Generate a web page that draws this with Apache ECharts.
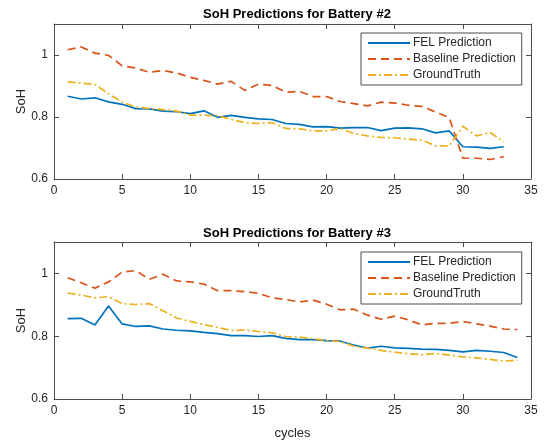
<!DOCTYPE html>
<html>
<head>
<meta charset="utf-8">
<script src="https://cdn.jsdelivr.net/npm/echarts@6/dist/echarts.min.js"></script>
<style>
  html, body { margin: 0; padding: 0; background: #fff; }
  #main { width: 546px; height: 443px; }
</style>
</head>
<body>
<div id="main"></div>
<script>
// battery #2 (cycles 1..33)
var cycles2 = [1,2,3,4,5,6,7,8,9,10,11,12,13,14,15,16,17,18,19,20,21,22,23,24,25,26,27,28,29,30,31,32,33];
var fel2 = [0.867,0.858,0.862,0.849,0.841,0.827,0.826,0.819,0.817,0.811,0.820,0.799,0.805,0.799,0.794,0.792,0.779,0.776,0.768,0.769,0.764,0.766,0.766,0.756,0.764,0.765,0.762,0.749,0.755,0.704,0.703,0.699,0.704];
var base2 = [1.017,1.026,1.006,0.999,0.965,0.958,0.944,0.950,0.942,0.928,0.918,0.906,0.915,0.886,0.906,0.902,0.880,0.883,0.866,0.866,0.850,0.843,0.836,0.848,0.845,0.838,0.834,0.816,0.798,0.667,0.667,0.663,0.672];
var truth2 = [0.913,0.909,0.905,0.875,0.848,0.832,0.827,0.824,0.819,0.806,0.806,0.804,0.792,0.782,0.779,0.782,0.763,0.762,0.755,0.755,0.763,0.747,0.739,0.734,0.733,0.729,0.725,0.707,0.707,0.770,0.739,0.750,0.720];

// battery #3 (cycles 1..34)
var cycles3 = [1,2,3,4,5,6,7,8,9,10,11,12,13,14,15,16,17,18,19,20,21,22,23,24,25,26,27,28,29,30,31,32,33,34];
var fel3 = [0.856,0.857,0.836,0.896,0.839,0.831,0.833,0.823,0.819,0.817,0.812,0.808,0.802,0.802,0.799,0.802,0.793,0.789,0.789,0.786,0.784,0.772,0.762,0.768,0.763,0.761,0.759,0.758,0.755,0.750,0.755,0.752,0.748,0.732];
var base3 = [0.986,0.970,0.953,0.973,1.004,1.009,0.981,0.997,0.976,0.973,0.966,0.945,0.945,0.942,0.937,0.922,0.917,0.909,0.915,0.902,0.884,0.886,0.867,0.854,0.864,0.852,0.836,0.841,0.841,0.847,0.839,0.832,0.823,0.821];
var truth3 = [0.937,0.931,0.922,0.926,0.904,0.901,0.904,0.881,0.858,0.847,0.837,0.828,0.818,0.820,0.815,0.811,0.799,0.797,0.792,0.786,0.783,0.768,0.762,0.755,0.749,0.744,0.741,0.745,0.740,0.734,0.731,0.726,0.721,0.723];

var xTicks = [0,5,10,15,20,25,30,35];
var yTicks = [0.6,0.8,1];
var names = ["FEL Prediction", "Baseline Prediction", "GroundTruth"];

var font = "Liberation Sans, Arial, sans-serif";
var axisColor = "#4d4d4d";
var txtColor = "#262626";

function pairs(xs, ys) {
  return ys.map(function (v, i) { return [xs[i], v]; });
}

function yLabel(v) {
  for (var i = 0; i < yTicks.length; i++) {
    if (Math.abs(yTicks[i] - v) < 1e-6) return String(yTicks[i]);
  }
  return "";
}

function xAxes(g, withName) {
  return [
    {
      type: "value", gridIndex: g, min: 0, max: 35, interval: 5,
      axisLine: { show: true, onZero: false, lineStyle: { color: axisColor } },
      axisTick: { inside: true, length: 5, lineStyle: { color: axisColor } },
      axisLabel: { color: txtColor, fontSize: 12, fontFamily: font, margin: 6 },
      splitLine: { show: false },
      name: withName ? "cycles" : "",
      nameLocation: "middle", nameGap: 28,
      nameTextStyle: { color: txtColor, fontSize: 13, fontFamily: font }
    },
    {
      type: "value", gridIndex: g, position: "top", min: 0, max: 35, interval: 5,
      axisLine: { show: true, onZero: false, lineStyle: { color: axisColor } },
      axisTick: { inside: true, length: 5, lineStyle: { color: axisColor } },
      axisLabel: { show: false },
      splitLine: { show: false }
    }
  ];
}

function yAxes(g) {
  return [
    {
      type: "value", gridIndex: g, min: 0.6, max: 1.1, interval: 0.2,
      axisLine: { show: true, onZero: false, lineStyle: { color: axisColor } },
      axisTick: { inside: true, length: 5, lineStyle: { color: axisColor } },
      axisLabel: { color: txtColor, fontSize: 12, fontFamily: font, margin: 6, formatter: yLabel },
      splitLine: { show: false },
      name: "SoH", nameLocation: "middle", nameGap: 26, nameRotate: 90, nameMoveOverlap: false,
      nameTextStyle: { color: txtColor, fontSize: 13, fontFamily: font }
    },
    {
      type: "value", gridIndex: g, position: "right", min: 0.6, max: 1.1, interval: 0.2,
      axisLine: { show: true, onZero: false, lineStyle: { color: axisColor } },
      axisTick: { inside: true, length: 5, lineStyle: { color: axisColor } },
      axisLabel: { show: false },
      splitLine: { show: false }
    }
  ];
}

function lines(xIdx, yIdx, xs, fel, base, truth) {
  var common = { type: "line", xAxisIndex: xIdx, yAxisIndex: yIdx, symbol: "none", animation: false };
  return [
    Object.assign({ name: names[0], data: pairs(xs, fel), color: "#0072BD",
      lineStyle: { width: 1.7, color: "#0072BD" } }, common),
    Object.assign({ name: names[1], data: pairs(xs, base), color: "#D95319",
      lineStyle: { width: 1.7, color: "#D95319", type: [8, 5] } }, common),
    Object.assign({ name: names[2], data: pairs(xs, truth), color: "#EDB120",
      lineStyle: { width: 1.7, color: "#EDB120", type: [8, 3, 2, 3] } }, common)
  ];
}

function legend(top) {
  return {
    data: names, orient: "vertical", left: 361, top: top,
    itemWidth: 42, itemHeight: 12, itemGap: 4,
    padding: [4, 6, 4, 6],
    backgroundColor: "#fff", borderColor: axisColor, borderWidth: 1, borderRadius: 0,
    itemStyle: { opacity: 0 },
    textStyle: { color: txtColor, fontSize: 12, fontFamily: font, padding: [0, 0, 0, -2] },
    selectedMode: false
  };
}

var chart = echarts.init(document.getElementById("main"), null, { renderer: "canvas" });
chart.setOption({
  backgroundColor: "#fff",
  animation: false,
  title: [
    { text: "SoH Predictions for Battery #2", left: 292, top: 3, textAlign: "center",
      textStyle: { fontSize: 13, fontWeight: "bold", color: "#000", fontFamily: font } },
    { text: "SoH Predictions for Battery #3", left: 292, top: 222, textAlign: "center",
      textStyle: { fontSize: 13, fontWeight: "bold", color: "#000", fontFamily: font } }
  ],
  grid: [
    { left: 54, top: 24, width: 477, height: 155 },
    { left: 54, top: 242, width: 477, height: 157 }
  ],
  legend: [legend(33), legend(252)],
  xAxis: xAxes(0, false).concat(xAxes(1, true)),
  yAxis: yAxes(0).concat(yAxes(1)),
  series: lines(0, 0, cycles2, fel2, base2, truth2).concat(lines(2, 2, cycles3, fel3, base3, truth3))
});
</script>
</body>
</html>
